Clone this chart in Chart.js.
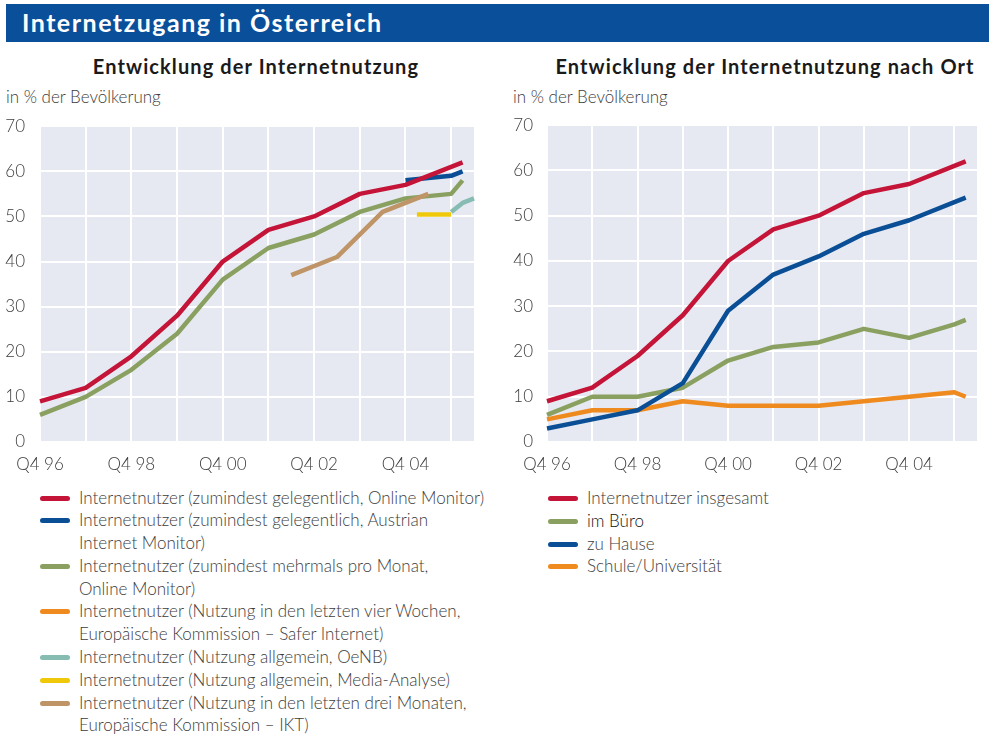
<!DOCTYPE html>
<html lang="de">
<head>
<meta charset="utf-8">
<script src="https://cdn.jsdelivr.net/npm/chart.js@4.4.1/dist/chart.umd.min.js"></script>
<style>
  body { margin: 0; width: 989px; height: 735px; background: #fff; position: relative; overflow: hidden;
         font-family: Lato, "Open Sans", sans-serif; color: #3c3c3c; }
  .bar { position: absolute; left: 6px; top: 4px; width: 983px; height: 38px; background: #0a4f9a; }
  .bar span { position: absolute; left: 16px; top: 3px; color: #fff; font-weight: bold; font-size: 25px; letter-spacing: 1.5px; }
  .sub { position: absolute; top: 54px; font-weight: bold; font-size: 20px; letter-spacing: 1.1px; color: #1a1a1a; text-align: center; }
  .unit { position: absolute; top: 86px; font-size: 17px; font-weight: 300; }
  canvas { position: absolute; }
  .legend { position: absolute; font-size: 17px; font-weight: 300; line-height: 22.8px; }
  .legend .item { position: relative; padding-left: 39px; }
  .legend .swatch { position: absolute; left: 0; top: 9px; width: 30px; height: 5px; border-radius: 3px; }
</style>
</head>
<body>
<div class="bar"><span>Internetzugang in Österreich</span></div>
<div class="sub" style="left:56px;width:400px">Entwicklung der Internetnutzung</div>
<div class="sub" style="left:545px;width:440px">Entwicklung der Internetnutzung nach Ort</div>
<div class="unit" style="left:6px">in % der Bevölkerung</div>
<div class="unit" style="left:513px">in % der Bevölkerung</div>
<canvas id="left" width="490" height="378" style="left:0;top:101px"></canvas>
<canvas id="right" width="489" height="378" style="left:500px;top:101px"></canvas>
<div class="legend" id="legLeft" style="left:40px;top:486.5px"></div>
<div class="legend" id="legRight" style="left:548px;top:487px"></div>
<script>
// quarterly categories, Q4 96 .. Q2 06
const quarters = ['Q4 96','Q1 97','Q2 97','Q3 97','Q4 97','Q1 98','Q2 98','Q3 98','Q4 98',
  'Q1 99','Q2 99','Q3 99','Q4 99','Q1 00','Q2 00','Q3 00','Q4 00','Q1 01','Q2 01','Q3 01','Q4 01',
  'Q1 02','Q2 02','Q3 02','Q4 02','Q1 03','Q2 03','Q3 03','Q4 03','Q1 04','Q2 04','Q3 04','Q4 04',
  'Q1 05','Q2 05','Q3 05','Q4 05','Q1 06','Q2 06'];
const yTicks = [0, 10, 20, 30, 40, 50, 60, 70];

// left chart series: [quarter, value]
const onlineGelegentlich = [['Q4 96',9],['Q4 97',12],['Q4 98',19],['Q4 99',28],['Q4 00',40],['Q4 01',47],
  ['Q4 02',50],['Q4 03',55],['Q4 04',57],['Q4 05',61],['Q1 06',62]];
const austrianMonitor = [['Q4 04',58],['Q4 05',59],['Q1 06',60]];
const onlineMehrmals = [['Q4 96',6],['Q4 97',10],['Q4 98',16],['Q4 99',24],['Q4 00',36],['Q4 01',43],
  ['Q4 02',46],['Q4 03',51],['Q4 04',54],['Q4 05',55],['Q1 06',58]];
const saferInternet = [];
const oenb = [['Q4 05',51],['Q1 06',53],['Q2 06',54]];
const mediaAnalyse = [['Q1 05',50.4],['Q4 05',50.4]];
const euIkt = [['Q2 02',37],['Q2 03',41],['Q2 04',51],['Q2 05',55]];

const leftLabels = [
  ['Internetnutzer (zumindest gelegentlich, Online Monitor)'],
  ['Internetnutzer (zumindest gelegentlich, Austrian', 'Internet Monitor)'],
  ['Internetnutzer (zumindest mehrmals pro Monat,', 'Online Monitor)'],
  ['Internetnutzer (Nutzung in den letzten vier Wochen,', 'Europäische Kommission \u2013 Safer Internet)'],
  ['Internetnutzer (Nutzung allgemein, OeNB)'],
  ['Internetnutzer (Nutzung allgemein, Media-Analyse)'],
  ['Internetnutzer (Nutzung in den letzten drei Monaten,', 'Europäische Kommission \u2013 IKT)']
];

// right chart series (yearly Q4 values)
const ortQuarters = ['Q4 96','Q4 97','Q4 98','Q4 99','Q4 00','Q4 01','Q4 02','Q4 03','Q4 04','Q4 05','Q1 06'];
const insgesamt = [9, 12, 19, 28, 40, 47, 50, 55, 57, 61, 62];
const imBuero = [6, 10, 10, 12, 18, 21, 22, 25, 23, 26, 27];
const zuHause = [3, 5, 7, 13, 29, 37, 41, 46, 49, 53, 54];
const schuleUni = [5, 7, 7, 9, 8, 8, 8, 9, 10, 11, 10];
const rightLabels = ['Internetnutzer insgesamt', 'im Büro', 'zu Hause', 'Schule/Universität'];

const RED = '#c41438', BLUE = '#0a4f96', GREEN = '#8aa060', ORANGE = '#ef8a1e',
      TEAL = '#86bcb1', YELLOW = '#f0c80a', BROWN = '#bf9466';

const pairs = arr => arr.map(([x, y]) => ({ x, y }));
const zip = (xs, ys) => xs.map((x, i) => ({ x, y: ys[i] }));

function line(data, color, order) {
  return { data, borderColor: color, backgroundColor: color, borderWidth: 4.5, pointRadius: 0,
           tension: 0, spanGaps: true, borderCapStyle: 'butt', borderJoinStyle: 'round', fill: false, order };
}

const plotBg = {
  id: 'plotBg',
  beforeDraw(chart) {
    const { ctx, chartArea: a } = chart;
    ctx.save();
    ctx.fillStyle = '#e6e9f2';
    ctx.fillRect(a.left, a.top, a.right - a.left, a.bottom - a.top);
    ctx.restore();
  }
};

// note: the y tick padding also sets the top space (half label height + padding)
function makeChart(id, datasets, yWidth, yPad, padRight) {
  const tickFont = { family: 'Lato', size: 17, weight: 300 };
  return new Chart(document.getElementById(id), {
    type: 'line',
    data: { labels: quarters, datasets },
    plugins: [plotBg],
    options: {
      responsive: false,
      animation: false,
      devicePixelRatio: 1,
      layout: { padding: { left: 0, right: padRight, top: 0, bottom: 0 } },
      plugins: { legend: { display: false }, tooltip: { enabled: false } },
      scales: {
        x: {
          type: 'category',
          offset: false,
          border: { display: false },
          grid: { drawTicks: false, lineWidth: 2,
                  color: c => (c.index % 4 === 0 ? '#ffffff' : 'rgba(0,0,0,0)') },
          ticks: { autoSkip: false, maxRotation: 0, padding: 12, color: '#3c3c3c', font: tickFont,
                   callback: (v, i) => (i % 8 === 0 ? quarters[i] : '') },
          afterFit: s => { s.height = 37; }
        },
        y: {
          min: yTicks[0], max: yTicks[yTicks.length - 1],
          border: { display: false },
          grid: { drawTicks: false, lineWidth: 2, color: '#ffffff' },
          ticks: { stepSize: 10, padding: yPad, color: '#3c3c3c', font: tickFont },
          afterFit: s => { s.width = yWidth; }
        }
      }
    }
  });
}

const leftColors = [RED, BLUE, GREEN, ORANGE, TEAL, YELLOW, BROWN];
makeChart('left', [
  line(pairs(onlineGelegentlich), RED, 0),
  line(pairs(austrianMonitor), BLUE, 1),
  line(pairs(onlineMehrmals), GREEN, 3),
  line(pairs(saferInternet), ORANGE, 4),
  line(pairs(oenb), TEAL, 5),
  line(pairs(mediaAnalyse), YELLOW, 6),
  line(pairs(euIkt), BROWN, 2)
], 40, 15, 16);

const rightColors = [RED, GREEN, BLUE, ORANGE];
makeChart('right', [
  line(zip(ortQuarters, insgesamt), RED, 0),
  line(zip(ortQuarters, imBuero), GREEN, 2),
  line(zip(ortQuarters, zuHause), BLUE, 1),
  line(zip(ortQuarters, schuleUni), ORANGE, 3)
], 47, 14, 8);

function buildLegend(el, labels, colors) {
  labels.forEach((lab, i) => {
    const item = document.createElement('div');
    item.className = 'item';
    const sw = document.createElement('span');
    sw.className = 'swatch';
    sw.style.background = colors[i];
    item.appendChild(sw);
    const lines = Array.isArray(lab) ? lab : [lab];
    lines.forEach((t, j) => {
      if (j) item.appendChild(document.createElement('br'));
      item.appendChild(document.createTextNode(t));
    });
    if (lab === 'im Büro') item.style.color = '#111';
    el.appendChild(item);
  });
}
buildLegend(document.getElementById('legLeft'), leftLabels, leftColors);
buildLegend(document.getElementById('legRight'), rightLabels, rightColors);
</script>
</body>
</html>
